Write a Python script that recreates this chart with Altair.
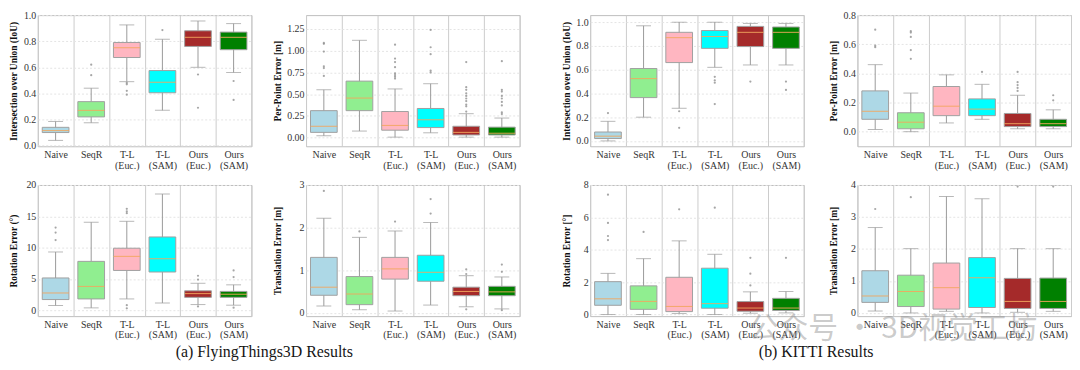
import altair as alt
import pandas as pd

SERIF = "Liberation Serif"

CATS = ["Naive", "SeqR", "T-L (Euc.)", "T-L (SAM)", "Ours (Euc.)", "Ours (SAM)"]
BOX_COLORS = ["#add8e6", "#90ee90", "#ffb6c1", "#00ffff", "#a52a2a", "#008000"]

# ---------------- (a) FlyingThings3D ----------------
# IoU
ft_iou_lo = [0.04, 0.175, 0.49, 0.27, 0.60, 0.56]
ft_iou_q1 = [0.10, 0.22, 0.675, 0.405, 0.76, 0.735]
ft_iou_med = [0.115, 0.27, 0.75, 0.485, 0.83, 0.83]
ft_iou_q3 = [0.14, 0.337, 0.79, 0.575, 0.88, 0.87]
ft_iou_hi = [0.185, 0.44, 0.925, 0.815, 0.955, 0.935]
ft_iou_out = [[], [0.54, 0.62], [0.48, 0.47, 0.42, 0.39], [0.885], [0.545, 0.29], [0.495, 0.35]]

# Per-point error
ft_ppe_lo = [0.02, 0.075, 0.005, 0.055, 0.005, 0.005]
ft_ppe_q1 = [0.06, 0.31, 0.085, 0.115, 0.03, 0.03]
ft_ppe_med = [0.13, 0.455, 0.14, 0.205, 0.06, 0.05]
ft_ppe_q3 = [0.31, 0.65, 0.30, 0.335, 0.13, 0.12]
ft_ppe_hi = [0.55, 1.12, 0.56, 0.62, 0.275, 0.225]
ft_ppe_out = [[1.09, 1.08, 0.99, 0.82, 0.80, 0.71], [],
              [1.07, 0.91, 0.87, 0.81, 0.74, 0.72, 0.70, 0.68],
              [1.24, 1.04, 0.96, 0.77, 0.75],
              [0.87, 0.58, 0.55, 0.51, 0.48, 0.45, 0.42, 0.38, 0.36, 0.30],
              [0.88, 0.55, 0.53, 0.48, 0.45, 0.41, 0.37, 0.29, 0.27]]

# Rotation error
ft_rot_lo = [0.75, 0.37, 1.8, 1.15, 0.9, 0.8]
ft_rot_q1 = [1.7, 1.8, 6.35, 6.1, 2.05, 2.05]
ft_rot_med = [2.75, 3.8, 8.6, 8.2, 2.65, 2.55]
ft_rot_q3 = [5.15, 7.8, 9.9, 11.7, 3.1, 3.0]
ft_rot_hi = [9.3, 14.05, 14.2, 18.55, 4.3, 4.05]
ft_rot_out = [[13.2, 12.4, 11.2], [], [16.2, 15.8, 15.5, 0.8, 0.3], [], [5.5, 4.9, 0.6], [6.35, 5.3, 0.4]]

# Translation error
ft_tr_lo = [0.16, 0.07, 0.04, 0.18, 0.14, 0.09]
ft_tr_q1 = [0.41, 0.19, 0.79, 0.74, 0.40, 0.40]
ft_tr_med = [0.60, 0.44, 1.03, 0.95, 0.50, 0.49]
ft_tr_q3 = [1.30, 0.85, 1.30, 1.35, 0.60, 0.62]
ft_tr_hi = [2.22, 1.77, 1.92, 2.12, 0.87, 0.84]
ft_tr_out = [[2.86], [1.91], [2.14], [2.67, 2.33], [1.02, 0.91, 0.08], [1.13, 0.96, 0.06]]

# ---------------- (b) KITTI ----------------
kt_iou_lo = [0.0, 0.20, 0.275, 0.62, 0.64, 0.64]
kt_iou_q1 = [0.02, 0.365, 0.66, 0.78, 0.795, 0.78]
kt_iou_med = [0.04, 0.525, 0.87, 0.88, 0.915, 0.915]
kt_iou_q3 = [0.075, 0.61, 0.915, 0.93, 0.965, 0.96]
kt_iou_hi = [0.165, 0.97, 1.0, 1.0, 0.99, 0.99]
kt_iou_out = [[0.235], [], [0.25, 0.11], [0.54, 0.51, 0.49, 0.31], [0.5], [0.5, 0.43]]

kt_ppe_lo = [0.015, 0.0, 0.06, 0.085, 0.02, 0.02]
kt_ppe_q1 = [0.085, 0.02, 0.11, 0.11, 0.035, 0.035]
kt_ppe_med = [0.14, 0.065, 0.175, 0.155, 0.055, 0.055]
kt_ppe_q3 = [0.28, 0.13, 0.31, 0.225, 0.125, 0.085]
kt_ppe_hi = [0.46, 0.265, 0.39, 0.325, 0.25, 0.15]
kt_ppe_out = [[0.70, 0.59, 0.58], [0.69, 0.68, 0.65, 0.56, 0.50], [], [0.41],
              [0.41, 0.34, 0.32, 0.30, 0.28], [0.25, 0.215]]

kt_rot_lo = [0.0, 0.0, 0.06, 0.0, 0.08, 0.1]
kt_rot_q1 = [0.57, 0.32, 0.18, 0.39, 0.2, 0.25]
kt_rot_med = [0.97, 0.81, 0.5, 0.67, 0.4, 0.4]
kt_rot_q3 = [2.03, 1.77, 2.3, 2.86, 0.8, 1.0]
kt_rot_hi = [2.54, 3.45, 4.55, 3.72, 1.4, 1.42]
kt_rot_out = [[7.4, 5.66, 4.85, 4.6], [5.1], [6.5], [6.6], [3.5, 2.52, 1.8], [3.5]]

kt_tr_lo = [0.06, 0.0, 0.05, 0.0, 0.02, 0.05]
kt_tr_q1 = [0.33, 0.2, 0.12, 0.17, 0.14, 0.14]
kt_tr_med = [0.53, 0.67, 0.79, 1.1, 0.36, 0.36]
kt_tr_q3 = [1.32, 1.18, 1.56, 1.73, 1.08, 1.09]
kt_tr_hi = [2.67, 2.01, 3.64, 3.57, 2.01, 2.01]
kt_tr_out = [[3.25], [3.62], [], [], [3.95], [3.95]]

CAPTION_A = "(a) FlyingThings3D Results"
CAPTION_B = "(b) KITTI Results"
WATERMARK = "公众号 · 3D视觉工坊"

W, H = 215, 132
GRAY = "#9a9a9a"

LBL = dict(labelFont=SERIF, labelFontSize=10, labelColor="#333333",
           titleFont=SERIF, titleFontSize=9.5, titleFontWeight="bold", titleColor="#111111")


def panel(lo, q1, med, q3, hi, outs, title, domain, ticks, fmt, extent):
    df = pd.DataFrame({"method": CATS, "lo": lo, "q1": q1, "med": med, "q3": q3, "hi": hi})
    pts = pd.DataFrame([(c, v) for c, vs in zip(CATS, outs) for v in vs],
                       columns=["method", "value"])
    x = alt.X("method:N", sort=CATS, title=None,
              scale=alt.Scale(domain=CATS, paddingInner=0, paddingOuter=0),
              axis=alt.Axis(labelExpr="split(datum.label, ' ')", tickBand="extent",
                            grid=True, gridColor="#cccccc", gridWidth=1,
                            ticks=False, domain=False, labelAngle=0,
                            labelPadding=3, labelLineHeight=11, **LBL))
    ysc = alt.Scale(domain=domain, nice=False, zero=False)
    yax = alt.Axis(values=ticks, format=fmt, grid=True, gridColor="#e4e4e4",
                   gridDash=[2, 2], ticks=False, domain=False, labelPadding=2,
                   titlePadding=4, minExtent=extent, maxExtent=extent, **LBL)

    def Y(f):
        return alt.Y(f, scale=ysc, axis=yax, title=title)

    base = alt.Chart(df)
    whisk = base.mark_rule(color=GRAY, strokeWidth=1).encode(x=x, y=Y("lo:Q"), y2="hi:Q")
    cap_lo = base.mark_tick(size=15, thickness=1, color=GRAY).encode(x=x, y=Y("lo:Q"))
    cap_hi = base.mark_tick(size=15, thickness=1, color=GRAY).encode(x=x, y=Y("hi:Q"))
    box = base.mark_bar(width=alt.RelativeBandSize(0.75), stroke="#a0a0a0",
                        strokeWidth=1).encode(
        x=x, y=Y("q1:Q"), y2="q3:Q",
        color=alt.Color("method:N", scale=alt.Scale(domain=CATS, range=BOX_COLORS),
                        legend=None))
    median = base.mark_tick(size=27, thickness=1, color="#f2a65e", opacity=0.9).encode(
        x=x, y=Y("med:Q"))
    out = alt.Chart(pts).mark_circle(size=5, color="#909090", opacity=0.8).encode(
        x=x, y=Y("value:Q"))
    return alt.layer(whisk, cap_lo, cap_hi, box, median, out).properties(width=W, height=H)


p1 = panel(ft_iou_lo, ft_iou_q1, ft_iou_med, ft_iou_q3, ft_iou_hi, ft_iou_out,
           "Intersection over Union (IoU)", [-0.005, 1.0], [0, 0.2, 0.4, 0.6, 0.8, 1.0], ".1f", 15)
p2 = panel(ft_ppe_lo, ft_ppe_q1, ft_ppe_med, ft_ppe_q3, ft_ppe_hi, ft_ppe_out,
           "Per-Point Error [m]", [-0.1, 1.41], [0, 0.25, 0.5, 0.75, 1.0, 1.25], ".2f", 20)
p5 = panel(ft_rot_lo, ft_rot_q1, ft_rot_med, ft_rot_q3, ft_rot_hi, ft_rot_out,
           "Rotation Error (°)", [-0.95, 20.0], [0, 5, 10, 15, 20], "d", 15)
p6 = panel(ft_tr_lo, ft_tr_q1, ft_tr_med, ft_tr_q3, ft_tr_hi, ft_tr_out,
           "Translation Error [m]", [-0.08, 3.0], [0, 1, 2, 3], "d", 20)

p3 = panel(kt_iou_lo, kt_iou_q1, kt_iou_med, kt_iou_q3, kt_iou_hi, kt_iou_out,
           "Intersection over Union (IoU)", [-0.045, 1.06], [0, 0.2, 0.4, 0.6, 0.8, 1.0], ".1f", 15)
p4 = panel(kt_ppe_lo, kt_ppe_q1, kt_ppe_med, kt_ppe_q3, kt_ppe_hi, kt_ppe_out,
           "Per-Point Error [m]", [-0.1, 0.8], [0, 0.2, 0.4, 0.6, 0.8], ".1f", 15)
p7 = panel(kt_rot_lo, kt_rot_q1, kt_rot_med, kt_rot_q3, kt_rot_hi, kt_rot_out,
           "Rotation Error [°]", [-0.1, 8.0], [0, 2, 4, 6, 8], "d", 15)
p8 = panel(kt_tr_lo, kt_tr_q1, kt_tr_med, kt_tr_q3, kt_tr_hi, kt_tr_out,
           "Translation Error [m]", [-0.1, 4.0], [0, 1, 2, 3, 4], "d", 15)


def group(panels, caption, colgap):
    return alt.concat(*panels, columns=2, align="each",
                      spacing={"row": 8, "column": colgap},
                      title=alt.TitleParams(caption, orient="bottom", anchor="middle",
                                            fontSize=16, font=SERIF, fontWeight="normal",
                                            color="#151515", offset=4))


gA = group([p1, p2, p5, p6], CAPTION_A, 19)
gB = group([p3, p4, p7, p8], CAPTION_B, 23)

chart = alt.hconcat(gA, gB, spacing=40).properties(
    padding=0,
    title=alt.TitleParams(WATERMARK, orient="bottom", anchor="start", dx=745,
                          offset=-46, fontSize=30, font="Noto Sans CJK SC",
                          fontWeight="normal", color="rgba(140,140,140,0.45)")
).configure_view(
    stroke="#bdbdbd", strokeWidth=1
)

chart.save("out.html", embed_options={"renderer": "svg", "actions": False})
